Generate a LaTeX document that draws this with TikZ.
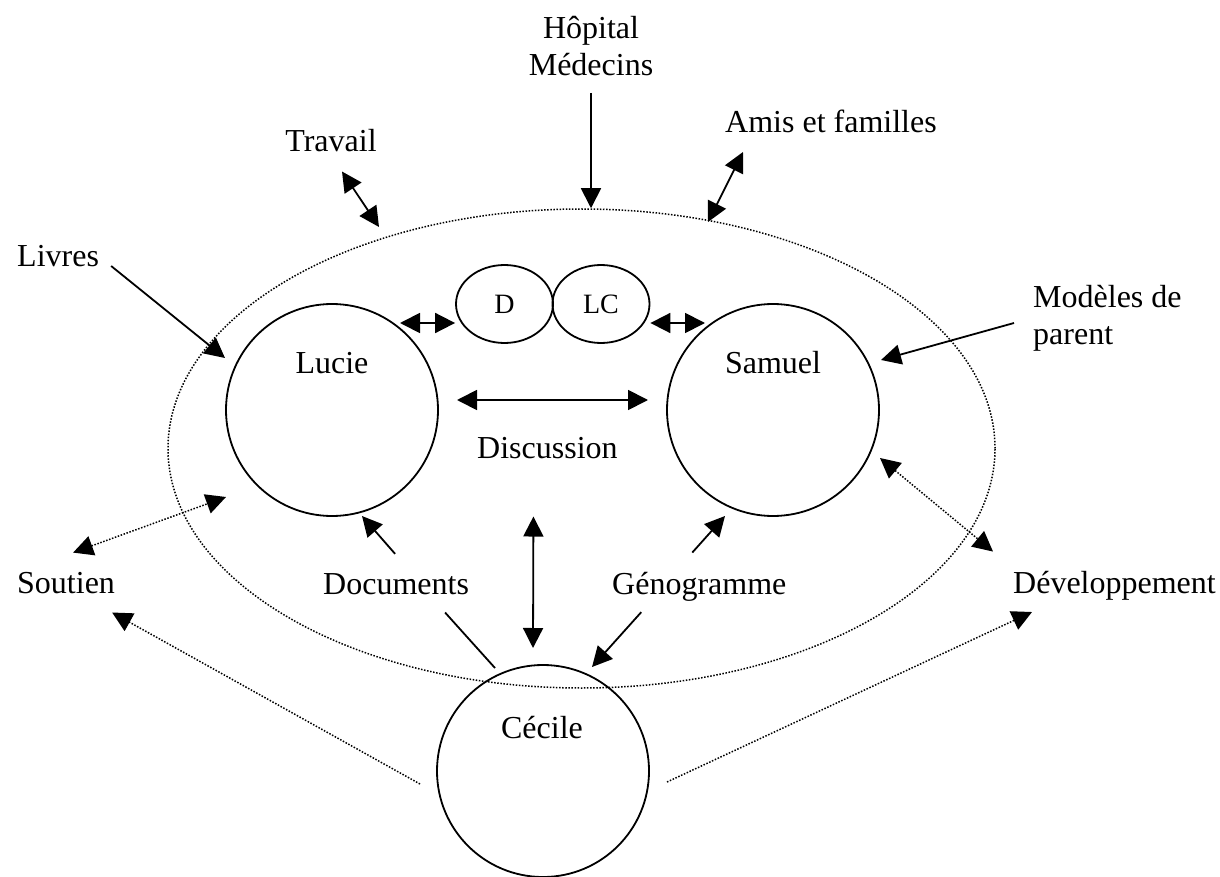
\documentclass[tikz,border=0pt]{standalone}
\usepackage{fontspec}
\setmainfont{Liberation Serif}
\usetikzlibrary{arrows.meta,shapes.geometric}
\begin{document}
\begin{tikzpicture}[x=1pt,y=-1pt,
  txt/.style={inner sep=0pt, font=\fontsize{32}{37}\selectfont},
  circ/.style={circle, draw, line width=1.8pt, minimum size=212pt, inner sep=0pt},
  smallell/.style={ellipse, draw, line width=1.8pt, minimum width=97pt, minimum height=78pt, inner sep=0pt, font=\fontsize{28}{33}\selectfont},
  tipT/.tip={Triangle[length=20pt,width=20pt]},
  arr/.style={line width=1.8pt, -tipT},
  darr/.style={line width=1.8pt, tipT-tipT},
  plain/.style={line width=1.8pt},
  dotl/.style={line width=1.5pt, dash pattern=on 1.5pt off 1.6pt},
  dotarr/.style={dotl, -tipT},
  ddarr/.style={dotl, tipT-tipT}]
\useasboundingbox (0,0) rectangle (1220,877);

% envelope
\node[ellipse, draw, dotl, minimum width=827pt, minimum height=479pt, inner sep=0pt] (env) at (581.5,448.5) {};

% labels
\node[txt, anchor=north, align=center] (hop) at (591,16) {Hôpital\\Médecins};
\node[txt, anchor=base] (travail) at (331,152) {Travail};
\node[txt, anchor=base west] (amis) at (725,133) {Amis et familles};
\node[txt, anchor=base west] (livres) at (17,267) {Livres};
\node[txt, anchor=north west, align=left] (modeles) at (1033,285) {Modèles de\\parent};
\node[txt, anchor=base west] (soutien) at (17,593) {Soutien};
\node[txt, anchor=base west] (dev) at (1013,593) {Développement};
\node[txt, anchor=base west] (documents) at (323,594) {Documents};
\node[txt, anchor=base west] (geno) at (612,594) {Génogramme};
\node[txt, anchor=base west] (discussion) at (477,458) {Discussion};

% persons
\node[circ] (lucie) at (332,410) {};
\node[circ] (samuel) at (773,410) {};
\node[circ] (cecile) at (543,771) {};
\node[txt, anchor=base] (lucieL) at (332,373) {Lucie};
\node[txt, anchor=base] (samuelL) at (773,373) {Samuel};
\node[txt, anchor=base] (cecileL) at (542,738) {Cécile};
\node[smallell] (D) at (504.5,304) {D};
\node[smallell] (LC) at (601,304) {LC};

% connectors
\draw[arr] ([shift={(0,17)}]hop.south) -- (hop.south |- env.north);
\draw[darr] ([shift={(11,19)}]travail.south) -- ([shift={(-202.5,-221.5)}]env.center);
\draw[darr] ([shift={(18,19)}]amis.base west) -- ([shift={(126.5,-226.5)}]env.center);
\draw[arr] ([shift={(12,-1)}]livres.base east) -- ([shift={(-107,-52)}]lucie.center);
\draw[arr] ([shift={(-19,38)}]modeles.north west) -- ([shift={(108,-50)}]samuel.center);
\draw[darr] ([shift={(68,-87)}]lucie.center) -- ([shift={(0,19)}]D.west);
\draw[darr] ([shift={(0,19)}]LC.east) -- ([shift={(-68,-87)}]samuel.center);
\draw[darr] ([shift={(125,-10)}]lucie.center) -- ([shift={(-125,-10)}]samuel.center);
\draw[darr] ([shift={(-14,58)}]discussion.south) -- ([shift={(-10,-123)}]cecile.center);
\draw[arr] ([shift={(-1,-19)}]documents.north) -- ([shift={(30,106)}]lucie.center);
\draw[arr] ([shift={(-7,-19)}]geno.north) -- ([shift={(-48,106)}]samuel.center);
\draw[plain] ([shift={(49,18)}]documents.south) -- ([shift={(-48,-103)}]cecile.center);
\draw[arr] ([shift={(-58,11)}]geno.south) -- ([shift={(49,-104)}]cecile.center);
\draw[ddarr] ([shift={(7,-19)}]soutien.north) -- ([shift={(-106,87)}]lucie.center);
\draw[dotarr] ([shift={(-123,13)}]cecile.center) -- ([shift={(46,19)}]soutien.south);
\draw[ddarr] ([shift={(107,48)}]samuel.center) -- ([shift={(-20,-19)}]dev.north west);
\draw[dotarr] ([shift={(124,11)}]cecile.center) -- ([shift={(19,12)}]dev.south west);
\end{tikzpicture}
\end{document}
